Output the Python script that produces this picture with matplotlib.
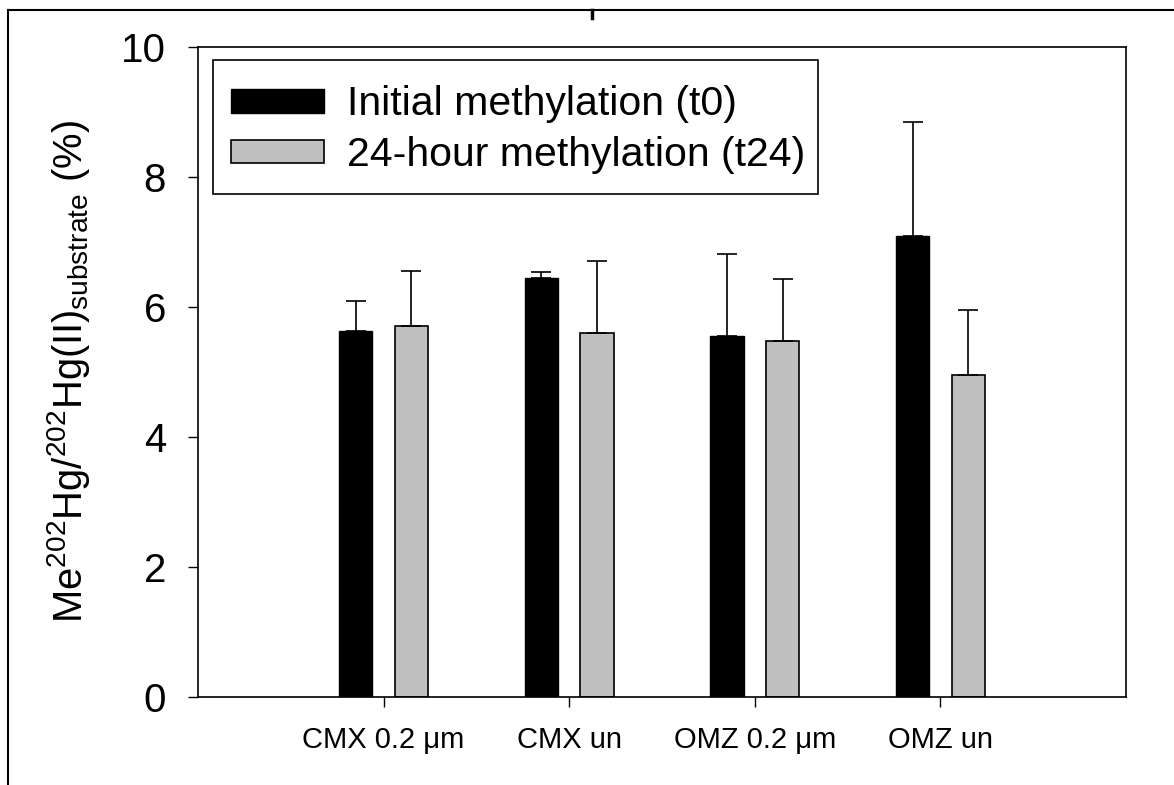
import numpy as np
import matplotlib
matplotlib.use("Agg")
import matplotlib.pyplot as plt
from matplotlib.lines import Line2D
from matplotlib.patches import Rectangle

plt.rcParams['font.family'] = ['Liberation Sans', 'DejaVu Sans']
plt.rcParams['mathtext.fontset'] = 'custom'
plt.rcParams['mathtext.rm'] = 'Liberation Sans'
plt.rcParams['mathtext.it'] = 'Liberation Sans:italic'
plt.rcParams['mathtext.bf'] = 'Liberation Sans:bold'

# data
categories = ['CMX 0.2 \u03bcm', 'CMX un', 'OMZ 0.2 \u03bcm', 'OMZ un']
t0_mean = [5.63, 6.45, 5.56, 7.10]
t0_err = [0.47, 0.09, 1.26, 1.75]
t24_mean = [5.71, 5.60, 5.47, 4.96]
t24_err = [0.85, 1.11, 0.96, 1.00]
series_labels = ['Initial methylation (t0)', '24-hour methylation (t24)']
yticks = [0, 2, 4, 6, 8, 10]

W, H = 1174, 785
fig = plt.figure(figsize=(W / 100, H / 100), dpi=100)
ax = fig.add_axes([198 / W, 1 - 697 / H, (1126 - 198) / W, (697 - 47) / H])

x = np.arange(1, len(categories) + 1)
bw = 0.18
off = 0.15
err_kw = dict(ecolor='black', elinewidth=1.2, capthick=1.2, capsize=7.5)

ax.bar(x - off, t0_mean, bw, color='black', edgecolor='black', linewidth=1.0,
       yerr=[np.zeros(len(t0_err)), t0_err], error_kw=err_kw, label=series_labels[0])
ax.bar(x + off, t24_mean, bw, color='#c0c0c0', edgecolor='black', linewidth=1.2,
       yerr=[np.zeros(len(t24_err)), t24_err], error_kw=err_kw, label=series_labels[1])

ax.set_xlim(0, 5)
ax.set_ylim(0, 10)
ax.set_xticks(x)
ax.set_xticklabels(categories, fontsize=21)
ax.set_yticks(yticks)
ax.set_yticklabels([str(v) for v in yticks], fontsize=29)
ax.tick_params(axis='x', direction='out', length=7, width=1.0, pad=14)
ax.tick_params(axis='y', direction='out', length=7, width=1.0, pad=16)
for s in ax.spines.values():
    s.set_linewidth(1.2)

ax.set_ylabel(r'Me$^{202}$Hg/$^{202}$Hg(II)$_{\mathrm{substrate}}$ (%)', fontsize=28.8, labelpad=21)

# legend text/handles without frame, frame drawn separately so padding matches
leg = ax.legend(loc='upper left', bbox_to_anchor=(213 / W, 1 - 67 / H),
                bbox_transform=fig.transFigure, borderaxespad=0,
                fontsize=29.5, frameon=False,
                handlelength=2.27, handleheight=0.5, handletextpad=0.56,
                labelspacing=0.3, borderpad=0.45)
fig.add_artist(Rectangle((213 / W, 1 - 194 / H), (818 - 213) / W, (194 - 60) / H,
                         transform=fig.transFigure, fill=False, edgecolor='black', lw=1.2))

# outer frame lines of the original page
fig.add_artist(Line2D([8 / W, 1.0], [1 - 10 / H, 1 - 10 / H], color='black', lw=1.5,
                      transform=fig.transFigure))
fig.add_artist(Line2D([8 / W, 8 / W], [1 - 10 / H, 0.0], color='black', lw=1.5,
                      transform=fig.transFigure))
fig.add_artist(Line2D([592 / W, 592 / W], [1 - 10 / H, 1 - 18 / H], color='black', lw=2.5,
                      transform=fig.transFigure))

fig.savefig('out.png', dpi=100)
